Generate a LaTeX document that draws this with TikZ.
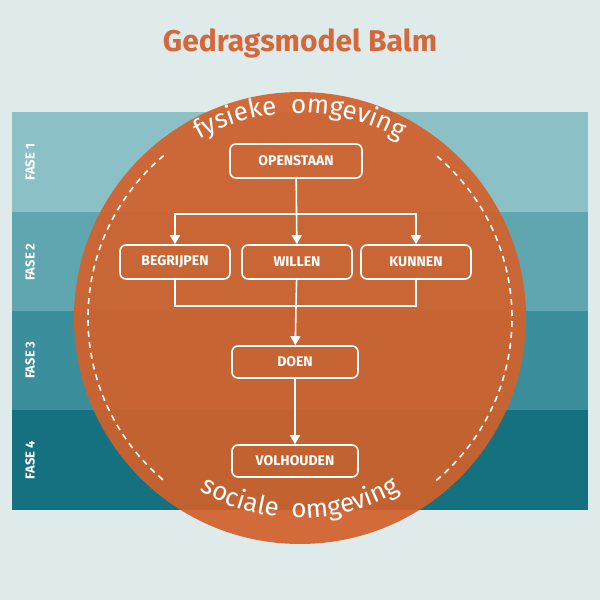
\documentclass[tikz,border=0pt]{standalone}
\usepackage{fontspec}
\setmainfont{Fira Sans}
\usetikzlibrary{arrows.meta}
\usetikzlibrary{decorations.text}
\definecolor{bgcol}{HTML}{DEEBEA}
\definecolor{faseA}{HTML}{8CC0C7}
\definecolor{faseB}{HTML}{5FA6B0}
\definecolor{faseC}{HTML}{3B8F9C}
\definecolor{faseD}{HTML}{15707F}
\definecolor{balm}{HTML}{D2612B}
\definecolor{titel}{HTML}{D5683A}
\newcommand{\boxh}{17pt}

\begin{document}
\begin{tikzpicture}[x=0.5pt,y=0.5pt]
                \fill[bgcol] (0,0) rectangle (600,600);
                \useasboundingbox (0,0) rectangle (600,600);
                \node (titel) at (300,557) {\fontsize{15}{18}\selectfont\bfseries\color{titel}Gedragsmodel Balm};

                % fasen
                \fill[faseA] (12,388) rectangle (588,488);
                \fill[faseB] (12,289) rectangle (588,388);
                \fill[faseC] (12,190) rectangle (588,289);
                \fill[faseD] (12,90) rectangle (588,190);
                \begin{scope}[every node/.style={rotate=90,text=white,font=\fontsize{6.5}{8}\selectfont\bfseries}]
                    \node (f1) at (30,438) {FASE 1};
                    \node (f2) at (30,338) {FASE 2};
                    \node (f3) at (30,240) {FASE 3};
                    \node (f4) at (30,140) {FASE 4};
                \end{scope}

                % cirkel
                \fill[balm,opacity=0.92] (300,282) circle (226);
                \draw[white,thick,dash pattern=on 3pt off 2.5pt] (300,282) ++(130:212) arc (130:230:212);
                \draw[white,thick,dash pattern=on 3pt off 2.5pt] (300,282) ++(-50:212) arc (-50:50:212);
                \path[decorate,decoration={text along path,text align=center,
                    text={|\fontsize{13}{15}\selectfont\color{white}|f{}y{}s{}i{}e{}k{}e{} {} o{}m{}g{}e{}v{}i{}n{}g}}]
                    (300,282) ++(145:205) arc (145:35:205);
                \path[decorate,decoration={text along path,text align=center,
                    text={|\fontsize{13}{15}\selectfont\color{white}|s{}o{}c{}i{}a{}l{}e{} {} o{}m{}g{}e{}v{}i{}n{}g}}]
                    (300,282) ++(215:200) arc (215:325:200);

                % stappen
                \begin{scope}[every node/.style={draw=white,thick,rounded corners=3pt,text=white,
                    minimum height=\boxh,font=\fontsize{7}{8}\selectfont\bfseries}]
                    \node[minimum width=66pt] (openstaan) at (296,439) {OPENSTAAN};
                    \node[minimum width=55pt] (begrijpen) at (175,338) {BEGRIJPEN};
                    \node[minimum width=55pt] (willen) at (297,338) {WILLEN};
                    \node[minimum width=55pt] (kunnen) at (416,338) {KUNNEN};
                    \node[minimum width=63pt,minimum height=16pt] (doen) at (295,238) {DOEN};
                    \node[minimum width=63pt,minimum height=16pt] (volhouden) at (295,139) {VOLHOUDEN};
                \end{scope}

                \coordinate (splits) at (296,386);
                \coordinate (samen) at (296,294);
                \begin{scope}[>={Triangle[white,width=5pt,length=4.5pt]},thick,white]
                    \draw[->] (openstaan) -- (willen);
                    \draw[->] (splits) -| (begrijpen);
                    \draw[->] (splits) -| (kunnen);
                    \draw (begrijpen.south) |- (samen) -| (kunnen.south);
                    \draw (willen) -- (samen);
                    \draw[->] (samen) -- (doen);
                    \draw[->] (doen) -- (volhouden);
                \end{scope}
\end{tikzpicture}
\end{document}
